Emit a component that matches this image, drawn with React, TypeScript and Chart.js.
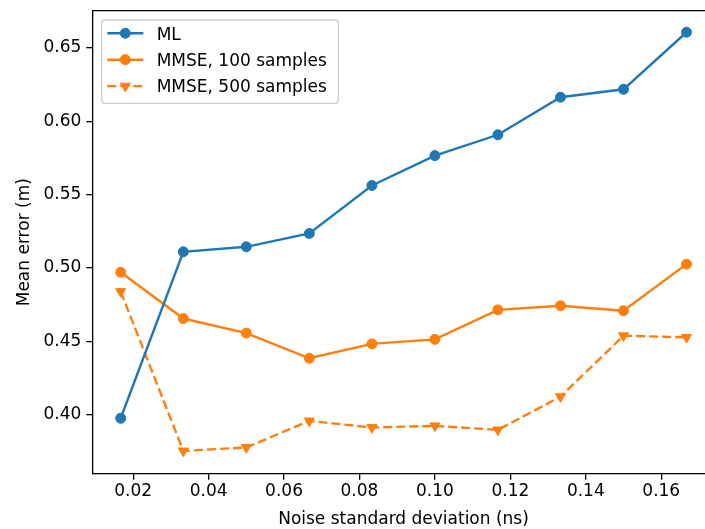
import React, { useEffect, useRef } from "react";
import { Chart, registerables } from "chart.js";

Chart.register(...registerables);

// ---- data ----
const noiseStd = [0.0167, 0.0333, 0.05, 0.0667, 0.0833, 0.1, 0.1167, 0.1333, 0.15, 0.1667];
const mlError = [0.3975, 0.511, 0.5144, 0.5235, 0.5562, 0.5766, 0.5908, 0.6164, 0.6218, 0.6607];
const mmse100Error = [0.497, 0.4655, 0.4556, 0.4384, 0.4482, 0.4513, 0.4714, 0.4742, 0.4708, 0.5026];
const mmse500Error = [0.4839, 0.3752, 0.3776, 0.3957, 0.3912, 0.3923, 0.3896, 0.4122, 0.4538, 0.4527];
const seriesLabels = ["ML", "MMSE, 100 samples", "MMSE, 500 samples"];
const xTicks = [0.02, 0.04, 0.06, 0.08, 0.1, 0.12, 0.14, 0.16];
const yTicks = [0.4, 0.45, 0.5, 0.55, 0.6, 0.65];
const xTitle = "Noise standard deviation (ns)";
const yTitle = "Mean error (m)";

const BLUE = "#1f77b4";
const ORANGE = "#ff7f0e";
const FONT = "'DejaVu Sans', 'Liberation Sans', sans-serif";
const FS = 17;

const toPoints = (ys: number[]) => ys.map((y, i) => ({ x: noiseStd[i], y }));

const framePlugin = {
  id: "mplFrame",
  afterDatasetsDraw(chart: any) {
    const { ctx, chartArea } = chart;
    ctx.save();
    ctx.strokeStyle = "#000";
    ctx.lineWidth = 1.3;
    ctx.beginPath();
    ctx.moveTo(chartArea.left, chartArea.top);
    ctx.lineTo(chartArea.right, chartArea.top);
    ctx.lineTo(chartArea.right, chartArea.bottom);
    ctx.stroke();
    ctx.restore();
  },
};

const legendPlugin = {
  id: "mplLegend",
  afterDraw(chart: any) {
    const { ctx } = chart;
    const x0 = 101.7, y0 = 20, w = 236.6, h = 83.3, r = 3;
    ctx.save();
    ctx.beginPath();
    ctx.moveTo(x0 + r, y0);
    ctx.lineTo(x0 + w - r, y0);
    ctx.quadraticCurveTo(x0 + w, y0, x0 + w, y0 + r);
    ctx.lineTo(x0 + w, y0 + h - r);
    ctx.quadraticCurveTo(x0 + w, y0 + h, x0 + w - r, y0 + h);
    ctx.lineTo(x0 + r, y0 + h);
    ctx.quadraticCurveTo(x0, y0 + h, x0, y0 + h - r);
    ctx.lineTo(x0, y0 + r);
    ctx.quadraticCurveTo(x0, y0, x0 + r, y0);
    ctx.closePath();
    ctx.fillStyle = "rgba(255,255,255,0.8)";
    ctx.fill();
    ctx.strokeStyle = "#cccccc";
    ctx.lineWidth = 1.28;
    ctx.stroke();

    chart.data.datasets.forEach((ds: any, i: number) => {
      const cy = 33.3 + i * 26.4;
      const color = ds.borderColor;
      ctx.strokeStyle = color;
      ctx.lineWidth = ds.borderWidth;
      ctx.setLineDash(ds.borderDash || []);
      ctx.beginPath();
      ctx.moveTo(107.3, cy);
      ctx.lineTo(143.3, cy);
      ctx.stroke();
      ctx.setLineDash([]);
      ctx.fillStyle = color;
      ctx.lineWidth = 1;
      const mx = 125.3;
      ctx.beginPath();
      if (ds.pointStyle === "triangle") {
        const rr = ds.pointRadius;
        const a = Math.PI;
        for (let k = 0; k < 3; k++) {
          const ang = a + (k * 2 * Math.PI) / 3;
          const px = mx + Math.sin(ang) * rr;
          const py = cy - Math.cos(ang) * rr;
          if (k === 0) ctx.moveTo(px, py);
          else ctx.lineTo(px, py);
        }
        ctx.closePath();
      } else {
        ctx.arc(mx, cy, ds.pointRadius, 0, Math.PI * 2);
      }
      ctx.fill();
      ctx.stroke();
      ctx.fillStyle = "#000";
      ctx.font = `${FS}px ${FONT}`;
      ctx.textBaseline = "alphabetic";
      ctx.textAlign = "left";
      ctx.fillText(ds.label, 156.7, cy + 6.2);
    });
    ctx.restore();
  },
};

export default function App() {
  const canvasRef = useRef<HTMLCanvasElement | null>(null);

  useEffect(() => {
    if (!canvasRef.current) return;
    const chart = new Chart(canvasRef.current, {
      type: "line",
      data: {
        datasets: [
          {
            label: seriesLabels[0],
            data: toPoints(mlError),
            borderColor: BLUE,
            backgroundColor: BLUE,
            borderWidth: 2.4,
            pointStyle: "circle",
            pointRadius: 5,
            pointHoverRadius: 5,
            pointBorderWidth: 1,
            tension: 0,
          },
          {
            label: seriesLabels[1],
            data: toPoints(mmse100Error),
            borderColor: ORANGE,
            backgroundColor: ORANGE,
            borderWidth: 2.4,
            pointStyle: "circle",
            pointRadius: 5,
            pointHoverRadius: 5,
            pointBorderWidth: 1,
            tension: 0,
          },
          {
            label: seriesLabels[2],
            data: toPoints(mmse500Error),
            borderColor: ORANGE,
            backgroundColor: ORANGE,
            borderWidth: 2.4,
            borderDash: [9, 4],
            pointStyle: "triangle",
            pointRotation: 180,
            pointRadius: 5.8,
            pointHoverRadius: 5.8,
            pointBorderWidth: 1,
            tension: 0,
          },
        ] as any,
      },
      options: {
        responsive: false,
        animation: false,
        events: [],
        layout: { autoPadding: false, padding: { top: 10.7, left: 0, right: 5.3, bottom: 0 } },
        plugins: {
          legend: { display: false },
          tooltip: { enabled: false },
        },
        scales: {
          x: {
            type: "linear",
            min: 0.00917,
            max: 0.17417,
            afterBuildTicks: (scale: any) => {
              scale.ticks = xTicks.map((v) => ({ value: v }));
            },
            afterFit: (scale: any) => {
              scale.height = 55.3;
              scale.paddingLeft = 0;
              scale.paddingRight = 0;
              scale.paddingTop = 0;
              scale.paddingBottom = 0;
            },
            grid: {
              drawOnChartArea: false,
              drawTicks: true,
              tickLength: 6,
              color: "#000",
              lineWidth: 1.3,
            },
            border: { display: true, color: "#000", width: 1.3 },
            ticks: {
              color: "#000",
              padding: 1.5,
              maxRotation: 0,
              autoSkip: false,
              font: { family: FONT, size: FS },
              callback: (v: any) => Number(v).toFixed(2),
            },
            title: {
              display: true,
              text: xTitle,
              color: "#000",
              font: { family: FONT, size: FS },
              padding: { top: 0, bottom: -0.8 },
            },
          },
          y: {
            type: "linear",
            min: 0.3597,
            max: 0.6754,
            afterBuildTicks: (scale: any) => {
              scale.ticks = yTicks.map((v) => ({ value: v }));
            },
            afterFit: (scale: any) => {
              scale.width = 92.3;
              scale.paddingLeft = 0;
              scale.paddingRight = 0;
              scale.paddingTop = 0;
              scale.paddingBottom = 0;
            },
            grid: {
              drawOnChartArea: false,
              drawTicks: true,
              tickLength: 6,
              color: "#000",
              lineWidth: 1.3,
            },
            border: { display: true, color: "#000", width: 1.3 },
            ticks: {
              color: "#000",
              padding: 5,
              autoSkip: false,
              font: { family: FONT, size: FS },
              callback: (v: any) => Number(v).toFixed(2),
            },
            title: {
              display: true,
              text: yTitle,
              color: "#000",
              font: { family: FONT, size: FS },
              padding: { top: 14, bottom: 0 },
            },
          },
        },
      } as any,
      plugins: [framePlugin, legendPlugin],
    });
    return () => chart.destroy();
  }, []);

  return (
    <div
      style={{
        position: "fixed",
        left: 0,
        top: 0,
        width: 705,
        height: 529,
        overflow: "hidden",
        background: "#fff",
      }}
    >
      <canvas ref={canvasRef} width={720} height={529} style={{ display: "block" }} />
    </div>
  );
}
